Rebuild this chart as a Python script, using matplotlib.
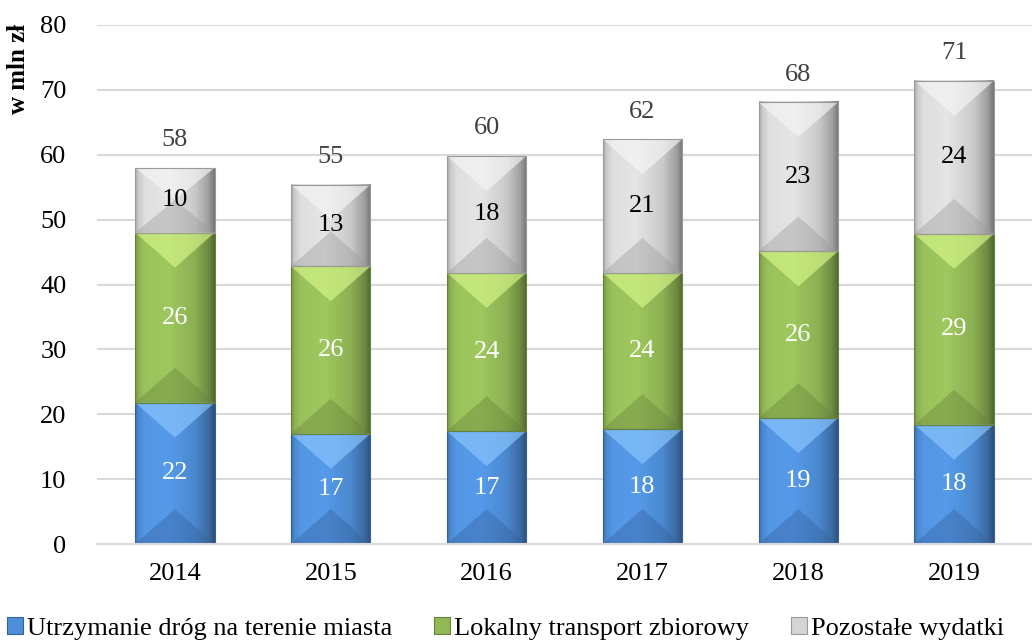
import numpy as np
import matplotlib
matplotlib.use("Agg")
import matplotlib.pyplot as plt
from matplotlib.patches import Polygon, Patch
from matplotlib.colors import to_rgb

years = ["2014", "2015", "2016", "2017", "2018", "2019"]
roads = [21.8, 17.0, 17.4, 17.7, 19.4, 18.4]
transport = [26.2, 25.8, 24.4, 24.1, 25.7, 29.4]
other = [10.0, 12.6, 18.0, 20.6, 23.0, 23.6]
series_names = ["Utrzymanie dróg na terenie miasta", "Lokalny transport zbiorowy", "Pozostałe wydatki"]

base_colors = ["#4f8fd9", "#93b957", "#d4d4d4"]
top_colors = ["#8cc8ff", "#d8f88a", "#f6f6f6"]
bot_colors = ["#35609a", "#66823a", "#9a9a9a"]
label_colors = ["white", "white", "black"]

plt.rcParams["font.family"] = ["Liberation Serif", "DejaVu Serif"]

fig = plt.figure(figsize=(10.32, 6.41), dpi=100)
ax = fig.add_axes([0.094, 0.1513, 0.906, 0.8097])
ax.set_xlim(-0.5, len(years) - 0.5)
ax.set_ylim(0, 80)

x = np.arange(len(years))
width = 0.51

# pixel scale for bevel depth
ax_h_px = 0.8097 * 641
px_per_unit = ax_h_px / 80.0
bevel_units = 35.0 / px_per_unit

# horizontal shading profile
N = 200
t = np.linspace(0, 1, N)
shade = np.interp(t, [0, 0.04, 0.12, 0.42, 0.75, 0.92, 1.0],
                  [0.78, 0.95, 1.05, 1.08, 0.95, 0.75, 0.55])

bottoms = np.zeros(len(years))
for si, vals in enumerate([roads, transport, other]):
    bars = ax.bar(x, vals, width, bottom=bottoms, color=base_colors[si],
                  edgecolor="none", zorder=2, label=series_names[si])
    base = np.array(to_rgb(base_colors[si]))
    img = np.clip(base[None, :] * shade[:, None], 0, 1)
    img = np.concatenate([img, np.ones((N, 1))], axis=1)[None, :, :]
    for b, v in zip(bars, vals):
        x0 = b.get_x(); x1 = x0 + b.get_width(); y0 = b.get_y(); y1 = y0 + b.get_height()
        xc = (x0 + x1) / 2
        ax.imshow(img, extent=[x0, x1, y0, y1], aspect="auto", zorder=2.1,
                  interpolation="bilinear")
        d = min(bevel_units, (y1 - y0) / 2)
        ax.add_patch(Polygon([(x0, y1), (x1, y1), (xc, y1 - d)], closed=True,
                             facecolor=top_colors[si], alpha=0.65, edgecolor="none", zorder=2.2))
        ax.add_patch(Polygon([(x0, y0), (x1, y0), (xc, y0 + d)], closed=True,
                             facecolor=bot_colors[si], alpha=0.4, edgecolor="none", zorder=2.2))
        ax.add_patch(plt.Rectangle((x0, y0), x1 - x0, y1 - y0, fill=False,
                                   edgecolor=bot_colors[si], linewidth=0.8, zorder=2.3))
        ax.text(xc, (y0 + y1) / 2, f"{v:.0f}", ha="center", va="center",
                fontsize=19, color=label_colors[si], zorder=3)
    bottoms = bottoms + np.array(vals)

for xi, tot in zip(x, bottoms):
    ax.annotate(f"{tot:.0f}", (xi, tot), xytext=(0, 12), textcoords="offset points",
                ha="center", va="bottom", fontsize=19, color="#404040")

ax.set_yticks(np.arange(0, 81, 10))
ax.set_xticks(x)
ax.set_xticklabels(years)
ax.tick_params(axis="both", length=0, labelsize=19)
ax.tick_params(axis="y", pad=22)
ax.tick_params(axis="x", pad=14)
ax.yaxis.grid(True, color="#d9d9d9", linewidth=1.5, zorder=0)
ax.set_axisbelow(True)
for s in ["top", "right", "left"]:
    ax.spines[s].set_visible(False)
ax.spines["bottom"].set_color("#d9d9d9")
ax.spines["bottom"].set_linewidth(1.5)

ax.set_ylabel("w mln zł", fontsize=18, fontweight="bold")
ax.yaxis.set_label_coords(-0.072, 0.915)

handles = [Patch(facecolor=c, edgecolor=e, linewidth=0.8) for c, e in zip(base_colors, bot_colors)]
fig.legend(handles, series_names, loc="center", bbox_to_anchor=(0.49, 0.02),
           ncol=3, frameon=False, fontsize=19, handlelength=0.6, handleheight=0.6,
           handletextpad=0.15, columnspacing=1.6, borderaxespad=0)

fig.savefig("out.png", dpi=100)
